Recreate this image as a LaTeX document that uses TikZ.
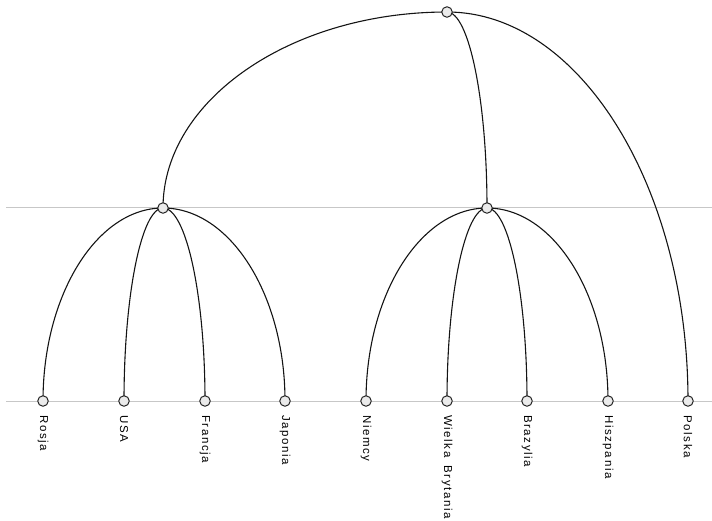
\documentclass[tikz,border=0pt]{standalone}
\usepackage{fontspec}
\setmainfont{Liberation Sans}
\newfontfamily\lblfont[LetterSpace=14,WordSpace=1.6]{Liberation Sans}
\usetikzlibrary{calc}
\newcommand\ellarc[2]{\draw[arc] (#1) .. controls ($(#1)!0.55!(#1-|#2)$) and ($(#2)!0.55!(#1-|#2)$) .. (#2);}
\begin{document}
\begin{tikzpicture}[x=1pt,y=-1pt,
  dot/.style={circle,draw=black!85,fill=black!8,line width=1pt,minimum size=10.5pt,inner sep=0pt},
  lbl/.style={rotate=-90,anchor=west,font=\lblfont\fontsize{11.5}{11.5}\selectfont,inner sep=0pt},
  guide/.style={draw=black!22,line width=1pt},
  arc/.style={draw=black!92,line width=1.1pt}]
\useasboundingbox (0,0) rectangle (712,520);
% guide lines
\coordinate (g1a) at (6,207); \coordinate (g1b) at (712,207);
\coordinate (g2a) at (6,401); \coordinate (g2b) at (712,401);
\draw[guide] (g1a) -- (g1b);
\draw[guide] (g2a) -- (g2b);
% node positions
\coordinate (t) at (447,12);
\coordinate (l) at (163,208);
\coordinate (r) at (487,208);
\coordinate (n1) at (43,401);
\coordinate (n2) at (124,401);
\coordinate (n3) at (205,401);
\coordinate (n4) at (285,401);
\coordinate (n5) at (366,401);
\coordinate (n6) at (447,401);
\coordinate (n7) at (527,401);
\coordinate (n8) at (608,401);
\coordinate (n9) at (688,401);
% connectors
\ellarc{t}{l}
\ellarc{t}{r}
\ellarc{t}{n9}
\ellarc{l}{n1}
\ellarc{l}{n2}
\ellarc{l}{n3}
\ellarc{l}{n4}
\ellarc{r}{n5}
\ellarc{r}{n6}
\ellarc{r}{n7}
\ellarc{r}{n8}
% dots
\foreach \c in {t,l,r,n1,n2,n3,n4,n5,n6,n7,n8,n9} \node[dot] (d\c) at (\c) {};
% labels
\node[lbl] (L1) at ($(n1)+(0,14)$) {Rosja};
\node[lbl] (L2) at ($(n2)+(0,14)$) {USA};
\node[lbl] (L3) at ($(n3)+(0,14)$) {Francja};
\node[lbl] (L4) at ($(n4)+(0,14)$) {Japonia};
\node[lbl] (L5) at ($(n5)+(0,14)$) {Niemcy};
\node[lbl] (L6) at ($(n6)+(0,14)$) {Wielka Brytania};
\node[lbl] (L7) at ($(n7)+(0,14)$) {Brazylia};
\node[lbl] (L8) at ($(n8)+(0,14)$) {Hiszpania};
\node[lbl] (L9) at ($(n9)+(0,14)$) {Polska};
\end{tikzpicture}
\end{document}
